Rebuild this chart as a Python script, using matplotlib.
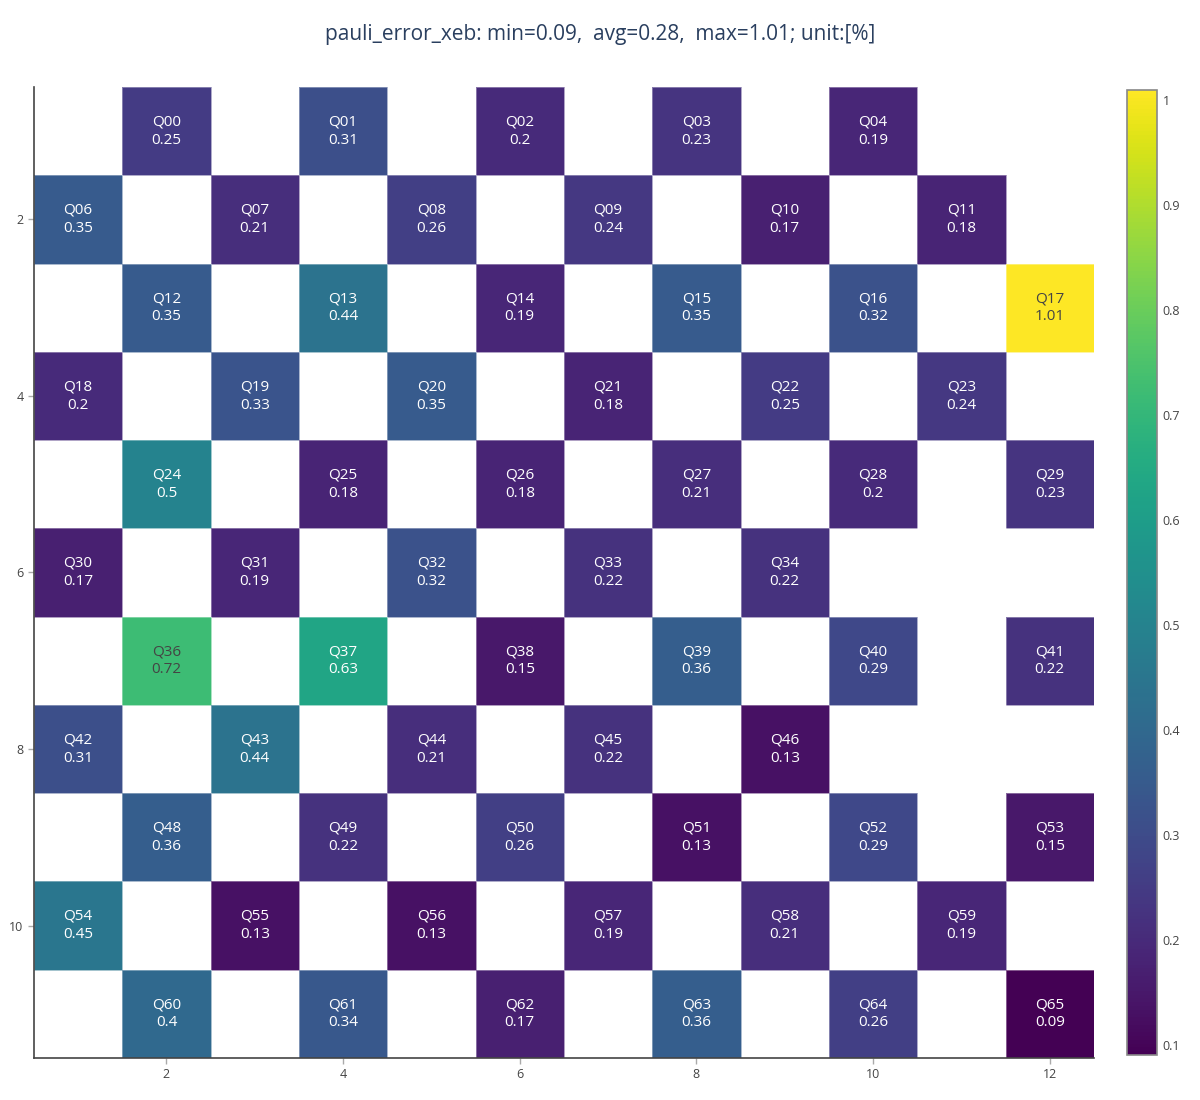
import numpy as np
import matplotlib.pyplot as plt
import matplotlib.colors as mcolors

# qubit layout and pauli error values (%)
qubits = ['Q00', 'Q01', 'Q02', 'Q03', 'Q04',
          'Q06', 'Q07', 'Q08', 'Q09', 'Q10', 'Q11',
          'Q12', 'Q13', 'Q14', 'Q15', 'Q16', 'Q17',
          'Q18', 'Q19', 'Q20', 'Q21', 'Q22', 'Q23',
          'Q24', 'Q25', 'Q26', 'Q27', 'Q28', 'Q29',
          'Q30', 'Q31', 'Q32', 'Q33', 'Q34',
          'Q36', 'Q37', 'Q38', 'Q39', 'Q40', 'Q41',
          'Q42', 'Q43', 'Q44', 'Q45', 'Q46',
          'Q48', 'Q49', 'Q50', 'Q51', 'Q52', 'Q53',
          'Q54', 'Q55', 'Q56', 'Q57', 'Q58', 'Q59',
          'Q60', 'Q61', 'Q62', 'Q63', 'Q64', 'Q65']
rows = [1]*5 + [2]*6 + [3]*6 + [4]*6 + [5]*6 + [6]*5 + [7]*6 + [8]*5 + [9]*6 + [10]*6 + [11]*6
cols = [2, 4, 6, 8, 10,
        1, 3, 5, 7, 9, 11,
        2, 4, 6, 8, 10, 12,
        1, 3, 5, 7, 9, 11,
        2, 4, 6, 8, 10, 12,
        1, 3, 5, 7, 9,
        2, 4, 6, 8, 10, 12,
        1, 3, 5, 7, 9,
        2, 4, 6, 8, 10, 12,
        1, 3, 5, 7, 9, 11,
        2, 4, 6, 8, 10, 12]
errors = [0.25, 0.31, 0.2, 0.23, 0.19,
          0.35, 0.21, 0.26, 0.24, 0.17, 0.18,
          0.35, 0.44, 0.19, 0.35, 0.32, 1.01,
          0.2, 0.33, 0.35, 0.18, 0.25, 0.24,
          0.5, 0.18, 0.18, 0.21, 0.2, 0.23,
          0.17, 0.19, 0.32, 0.22, 0.22,
          0.72, 0.63, 0.15, 0.36, 0.29, 0.22,
          0.31, 0.44, 0.21, 0.22, 0.13,
          0.36, 0.22, 0.26, 0.13, 0.29, 0.15,
          0.45, 0.13, 0.13, 0.19, 0.21, 0.19,
          0.4, 0.34, 0.17, 0.36, 0.26, 0.09]

n_rows, n_cols = 11, 12
grid = np.full((n_rows, n_cols), np.nan)
for r, c, v in zip(rows, cols, errors):
    grid[r - 1, c - 1] = v
grid = np.ma.masked_invalid(grid)

vmin, vmax = min(errors), max(errors)
norm = mcolors.Normalize(vmin=vmin, vmax=vmax)
cmap = plt.get_cmap('viridis')

plt.rcParams['font.family'] = ['Open Sans', 'DejaVu Sans']
fig = plt.figure(figsize=(12, 11), dpi=100)
ax = fig.add_axes([0.0283, 0.0382, 0.8833, 0.8827])
cax = fig.add_axes([0.9392, 0.0409, 0.025, 0.8773])

xe = np.arange(0.5, n_cols + 1, 1)
ye = np.arange(0.5, n_rows + 1, 1)
mesh = ax.pcolormesh(xe, ye, grid, cmap=cmap, norm=norm,
                     edgecolor=(1, 1, 1, 0.35), linewidth=0.6)
ax.set_xlim(0.5, n_cols + 0.5)
ax.set_ylim(n_rows + 0.5, 0.5)

for name, r, c, v in zip(qubits, rows, cols, errors):
    rgba = cmap(norm(v))
    lum = 0.299 * rgba[0] + 0.587 * rgba[1] + 0.114 * rgba[2]
    tc = '#444444' if lum > 0.55 else 'white'
    ax.text(c, r, f'{name}\n{v:g}', ha='center', va='center', color=tc,
            fontsize=11, linespacing=1.3)

ax.set_xticks([2, 4, 6, 8, 10, 12])
ax.set_yticks([2, 4, 6, 8, 10])
for s in ['top', 'right']:
    ax.spines[s].set_visible(False)
for s in ['left', 'bottom']:
    ax.spines[s].set_color('#444444')
    ax.spines[s].set_linewidth(1.2)
ax.tick_params(labelsize=9, length=4, width=1, direction='out')
ax.tick_params(axis='x', colors='#aaaaaa', labelcolor='#444444')
ax.tick_params(axis='y', colors='#aaaaaa', labelcolor='#444444')

cb = fig.colorbar(mesh, cax=cax)
cb.set_ticks([0.1, 0.2, 0.3, 0.4, 0.5, 0.6, 0.7, 0.8, 0.9, 1])
cb.set_ticklabels(['0.1', '0.2', '0.3', '0.4', '0.5', '0.6', '0.7', '0.8', '0.9', '1'])
cb.ax.tick_params(length=0, labelsize=9, labelcolor='#444444', pad=4)
cb.outline.set_edgecolor('#888888')
cb.outline.set_linewidth(1.2)

fig.suptitle('pauli_error_xeb: min=0.09,  avg=0.28,  max=1.01; unit:[%]',
             x=0.5, y=0.978, fontsize=15, color='#2a3f5f')

fig.savefig('out.png')
